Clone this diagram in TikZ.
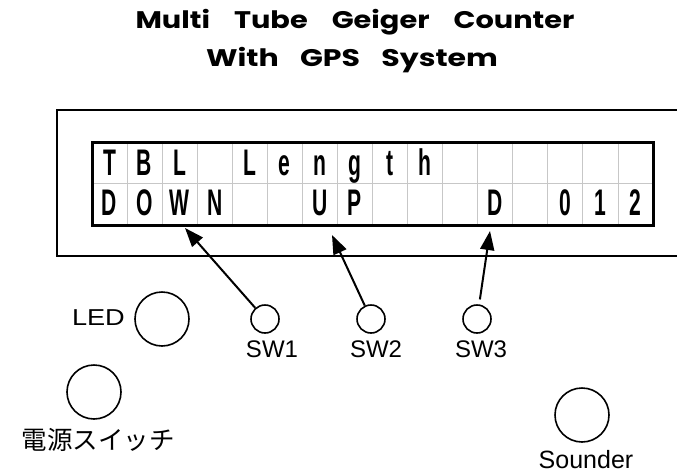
\documentclass[tikz,border=0pt]{standalone}
\usepackage{fontspec}
\usepackage{graphicx}
\setmainfont{Liberation Sans}
\newfontfamily\titlefont{Poppins}
\newfontfamily\jpfont{Noto Sans CJK JP}
\usetikzlibrary{arrows.meta}

\newcommand{\tgap}{\hspace{20pt}}

\tikzset{
  panel/.style={draw, line width=2},
  lcdframe/.style={draw, line width=3},
  lcdgrid/.style={draw=black!22, line width=0.8},
  lcdtxt/.style={anchor=base, inner sep=0, font=\bfseries\fontsize{37}{37}\selectfont},
  knob/.style={circle, draw, line width=1.6, inner sep=0},
  swbtn/.style={knob, minimum size=28},
  bigbtn/.style={knob, minimum size=54},
  lbl/.style={inner sep=0, font=\fontsize{24}{24}\selectfont},
  ptr/.style={line width=2, -{Triangle[length=19, width=14]}},
  ttl/.style={inner sep=0, anchor=base, font=\titlefont\bfseries\fontsize{24}{24}\selectfont}
}

\begin{document}
\begin{tikzpicture}[x=1pt, y=-1pt]
\useasboundingbox (0,0) rectangle (677,474);
\clip (0,0) rectangle (677,474);

% title
\node[ttl] (title1) at (355,28) {\scalebox{1.2}[1]{Multi\tgap Tube\tgap Geiger\tgap Counter}};
\node[ttl] (title2) at (352,66) {\scalebox{1.25}[1]{With\hspace{17pt}GPS\hspace{17pt}System}};

% front panel (continues past the right edge)
\draw[panel] (57,110) rectangle (700,256);

% 16x2 character display
\def\cw{35.0625}
\foreach \i in {1,...,15}
  \draw[lcdgrid] ({92+\i*\cw},142) -- ({92+\i*\cw},225);
\draw[lcdgrid] (92,183.5) -- (653,183.5);
\draw[lcdframe] (92,142) rectangle (653,225);

\foreach \c/\ch in {1/T,2/B,3/L,5/L,6/e,7/n,8/g,9/t,10/h}
  \node[lcdtxt] (ra\c) at ({92+(\c-0.5)*\cw},175) {\scalebox{0.57}[1]{\ch}};
\foreach \c/\ch in {1/D,2/O,3/W,4/N,7/U,8/P,12/D,14/0,15/1,16/2}
  \node[lcdtxt] (rb\c) at ({92+(\c-0.5)*\cw},215) {\scalebox{0.57}[1]{\ch}};

% arrow targets on the display
\coordinate (t1) at (185,228);
\coordinate (t2) at (332,235);
\coordinate (t3) at (490,231);

% push switches
\node[swbtn] (sw1) at (265,319) {};
\node[swbtn] (sw2) at (371,319) {};
\node[swbtn] (sw3) at (477,319) {};
\node[lbl, anchor=base] (sw1l) at (272,357) {SW1};
\node[lbl, anchor=base] (sw2l) at (376,357) {SW2};
\node[lbl, anchor=base] (sw3l) at (481,357) {SW3};

\draw[ptr] (sw1) -- (t1);
\draw[ptr] (sw2) -- (t2);
\draw[ptr, shorten <=5] (sw3) -- (t3);

% LED, power switch, sounder
\node[bigbtn] (led) at (162,319) {};
\node[lbl, anchor=base east, font=\fontsize{23}{23}\selectfont] (ledl) at (125,325) {\scalebox{1.18}[1]{LED}};

\node[bigbtn] (pwr) at (94,392) {};
\node[lbl, font=\jpfont\fontsize{25.5}{25.5}\selectfont] (pwrl) at (98,440) {電源スイッチ};

\node[bigbtn] (snd) at (582,415) {};
\node[lbl, anchor=base, font=\fontsize{25}{25}\selectfont] (sndl) at (586,468) {Sounder};
\end{tikzpicture}
\end{document}
